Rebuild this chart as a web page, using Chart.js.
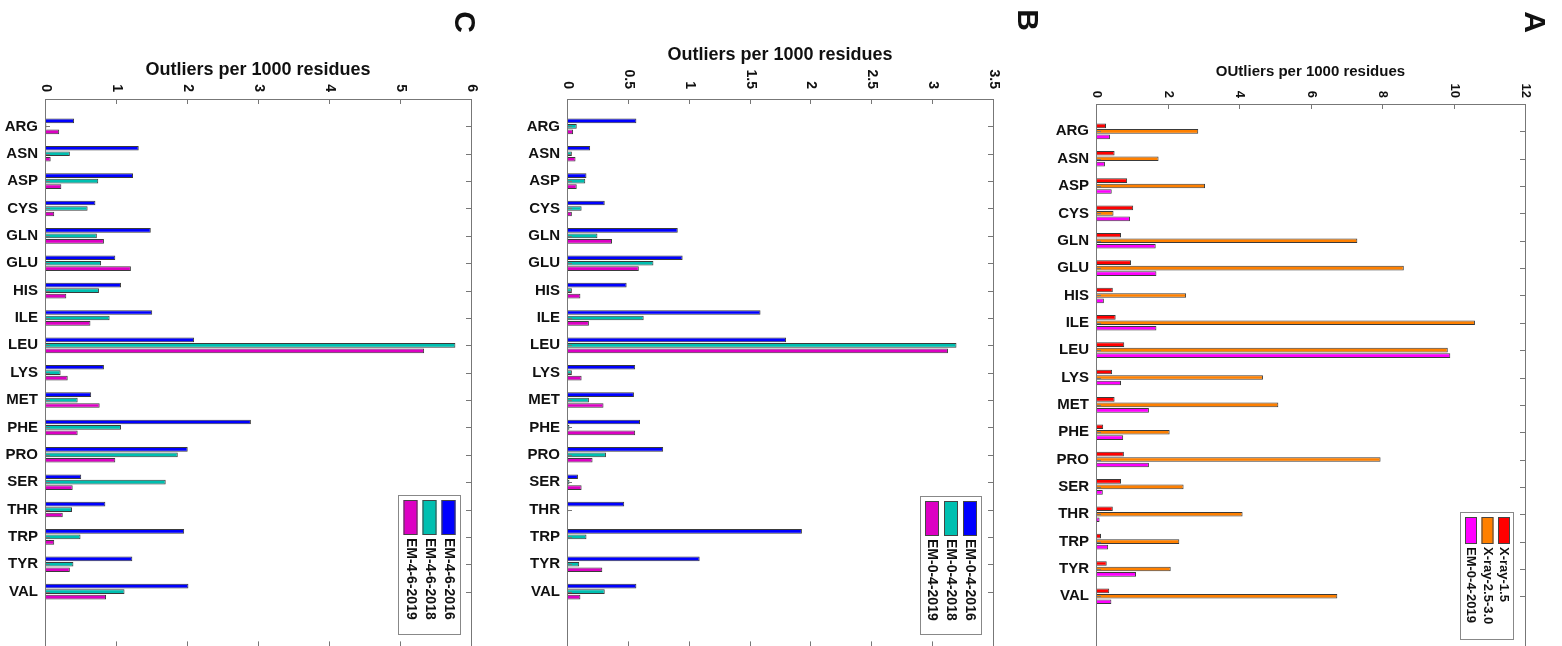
<!DOCTYPE html>
<html>
<head>
<meta charset="utf-8">
<script src="https://cdn.jsdelivr.net/npm/chart.js@4.4.1/dist/chart.umd.min.js"></script>
<style>
  html, body { margin: 0; padding: 0; background: #fff; overflow: hidden; width: 1562px; height: 646px; }
  canvas { position: absolute; top: 0; }
</style>
</head>
<body>
<canvas id="panelC" width="520" height="670" style="left:0px"></canvas>
<canvas id="panelB" width="520" height="670" style="left:522px"></canvas>
<canvas id="panelA" width="511" height="670" style="left:1051px"></canvas>
<script>
const residues = ['ARG', 'ASN', 'ASP', 'CYS', 'GLN', 'GLU', 'HIS', 'ILE', 'LEU',
  'LYS', 'MET', 'PHE', 'PRO', 'SER', 'THR', 'TRP', 'TYR', 'VAL'];

// panel A
const xray15 = [0.28, 0.52, 0.87, 1.04, 0.70, 0.98, 0.47, 0.55, 0.79, 0.45, 0.52, 0.20, 0.78, 0.70, 0.47, 0.14, 0.30, 0.37];
const xray2530 = [2.86, 1.75, 3.05, 0.49, 7.31, 8.61, 2.52, 10.60, 9.84, 4.67, 5.10, 2.06, 7.96, 2.45, 4.10, 2.33, 2.09, 6.75];
const em04y2019A = [0.39, 0.25, 0.44, 0.95, 1.67, 1.69, 0.22, 1.69, 9.91, 0.70, 1.48, 0.76, 1.48, 0.19, 0.10, 0.34, 1.12, 0.43];

// panel B
const em04y2016 = [0.57, 0.19, 0.16, 0.31, 0.91, 0.95, 0.49, 1.59, 1.80, 0.56, 0.55, 0.60, 0.79, 0.09, 0.47, 1.93, 1.09, 0.57];
const em04y2018 = [0.08, 0.04, 0.15, 0.12, 0.25, 0.71, 0.04, 0.63, 3.20, 0.04, 0.18, 0.02, 0.32, 0.02, 0.01, 0.16, 0.10, 0.31];
const em04y2019 = [0.05, 0.07, 0.08, 0.04, 0.37, 0.59, 0.11, 0.18, 3.13, 0.12, 0.30, 0.56, 0.21, 0.12, 0, 0, 0.29, 0.11];

// panel C
const em46y2016 = [0.41, 1.32, 1.24, 0.71, 1.49, 0.99, 1.07, 1.51, 2.10, 0.83, 0.65, 2.90, 2.01, 0.51, 0.85, 1.96, 1.23, 2.02];
const em46y2018 = [0.02, 0.35, 0.75, 0.60, 0.73, 0.79, 0.76, 0.91, 5.78, 0.22, 0.46, 1.07, 1.87, 1.70, 0.38, 0.50, 0.40, 1.12];
const em46y2019 = [0.20, 0.08, 0.23, 0.13, 0.83, 1.21, 0.30, 0.64, 5.34, 0.32, 0.77, 0.46, 0.99, 0.39, 0.25, 0.13, 0.35, 0.86];

const FONT = '"Liberation Sans", Arial, Helvetica, sans-serif';

// one empty slot above ARG and two below VAL, like the matlab axis 0..20
const catLabels = ['', ...residues, '', ''];
const padded = arr => [null, ...arr, null, null];

// box, inward ticks, rotated tick labels, title, legend, panel letter
const deco = {
  id: 'deco',
  afterDraw(chart, args, o) {
    const { ctx, chartArea: a } = chart;
    const x = chart.scales.x, y = chart.scales.y;
    ctx.save();
    ctx.strokeStyle = '#777';
    ctx.lineWidth = 1;
    ctx.strokeRect(a.left + 0.5, a.top + 0.5, a.right - a.left, a.bottom - a.top);

    ctx.fillStyle = '#111';
    ctx.font = 'bold ' + o.tickSize + 'px ' + FONT;
    for (let v = x.min; v <= x.max + 1e-9; v += o.step) {
      const px = Math.round(x.getPixelForValue(v)) + 0.5;
      ctx.beginPath();
      ctx.moveTo(px, a.top); ctx.lineTo(px, a.top + 5);
      ctx.moveTo(px, a.bottom); ctx.lineTo(px, a.bottom - 5);
      ctx.stroke();
      ctx.save();
      ctx.translate(px, a.top - o.tickGap);
      ctx.rotate(Math.PI / 2);
      ctx.textAlign = 'right';
      ctx.textBaseline = 'middle';
      ctx.fillText(String(Number(v.toFixed(1))), 0, 0);
      ctx.restore();
    }
    for (let i = 1; i <= residues.length; i++) {
      const py = Math.round(y.getPixelForValue(i)) + 0.5;
      ctx.beginPath();
      ctx.moveTo(a.left, py); ctx.lineTo(a.left + 5, py);
      ctx.moveTo(a.right, py); ctx.lineTo(a.right - 5, py);
      ctx.stroke();
    }

    // title
    ctx.font = 'bold ' + o.titleSize + 'px ' + FONT;
    ctx.textAlign = 'center';
    ctx.textBaseline = 'middle';
    ctx.fillText(o.title, (a.left + a.right) / 2, o.titleY);

    // legend
    const b = o.legend;
    ctx.fillStyle = '#fff';
    ctx.fillRect(b.x, b.y, b.w, b.h);
    ctx.strokeStyle = '#888';
    ctx.strokeRect(b.x + 0.5, b.y + 0.5, b.w, b.h);
    ctx.font = 'bold ' + b.font + 'px ' + FONT;
    chart.data.datasets.forEach((ds, i) => {
      const cx = b.x + b.w - b.right - i * b.spacing;
      ctx.fillStyle = ds.backgroundColor;
      ctx.fillRect(cx - b.sw / 2, b.y + 5, b.sw, b.sh);
      ctx.strokeStyle = '#444';
      ctx.strokeRect(cx - b.sw / 2 + 0.5, b.y + 5.5, b.sw - 1, b.sh - 1);
      ctx.save();
      ctx.translate(cx, b.y + 5 + b.sh + 3);
      ctx.rotate(Math.PI / 2);
      ctx.fillStyle = '#111';
      ctx.textAlign = 'left';
      ctx.textBaseline = 'middle';
      ctx.fillText(ds.label, 0, 0);
      ctx.restore();
    });

    // panel letter
    ctx.save();
    ctx.translate(o.letterX, o.letterY);
    ctx.rotate(Math.PI / 2);
    ctx.font = 'bold 30px ' + FONT;
    ctx.fillStyle = '#111';
    ctx.textAlign = 'center';
    ctx.textBaseline = 'middle';
    ctx.fillText(o.letter, 0, 0);
    ctx.restore();
    ctx.restore();
  }
};

function makePanel(id, series, xMax, pad, deco_) {
  return new Chart(document.getElementById(id), {
    type: 'bar',
    data: {
      labels: catLabels,
      datasets: series.map(s => ({
        label: s.label,
        data: padded(s.data),
        backgroundColor: s.color,
        borderColor: '#3a3a3a',
        borderWidth: 1,
        categoryPercentage: 0.6,
        barPercentage: 0.85
      }))
    },
    options: {
      indexAxis: 'y',
      responsive: false,
      animation: false,
      layout: { padding: pad },
      scales: {
        x: { display: false, min: 0, max: xMax },
        y: {
          offset: false,
          grid: { display: false, drawTicks: false },
          border: { display: false },
          ticks: { color: '#111', padding: 7, font: { family: FONT, size: 15, weight: 'bold' } },
          afterFit: s => { s.width = 45; }
        }
      },
      plugins: {
        legend: { display: false },
        tooltip: { enabled: false },
        deco: deco_
      }
    },
    plugins: [deco]
  });
}

makePanel('panelC', [
  { label: 'EM-4-6-2016', data: em46y2016, color: '#0000ff' },
  { label: 'EM-4-6-2018', data: em46y2018, color: '#00bfb0' },
  { label: 'EM-4-6-2019', data: em46y2019, color: '#dc00c3' }
], 6, { left: 0, right: 49, top: 99, bottom: 23.6 }, {
  step: 1, tickSize: 14, tickGap: 7, title: 'Outliers per 1000 residues', titleSize: 18, titleY: 70,
  letter: 'C', letterX: 463, letterY: 22,
  legend: { x: 398, y: 495, w: 62, h: 139, right: 11.5, spacing: 19, sw: 14, sh: 35, font: 14 }
});

makePanel('panelB', [
  { label: 'EM-0-4-2016', data: em04y2016, color: '#0000ff' },
  { label: 'EM-0-4-2018', data: em04y2018, color: '#00bfb0' },
  { label: 'EM-0-4-2019', data: em04y2019, color: '#dc00c3' }
], 3.5, { left: 0, right: 49, top: 99, bottom: 23.6 }, {
  step: 0.5, tickSize: 14, tickGap: 10, title: 'Outliers per 1000 residues', titleSize: 18, titleY: 55,
  letter: 'B', letterX: 504, letterY: 20,
  legend: { x: 398, y: 496, w: 61, h: 138, right: 11, spacing: 19, sw: 14, sh: 35, font: 14 }
});

makePanel('panelA', [
  { label: 'X-ray-1.5', data: xray15, color: '#ff0000' },
  { label: 'X-ray-2.5-3.0', data: xray2530, color: '#ff8000' },
  { label: 'EM-0-4-2019', data: em04y2019A, color: '#ff00ff' }
], 12, { left: 0, right: 37, top: 104, bottom: 19 }, {
  step: 2, tickSize: 13, tickGap: 6, title: 'OUtliers per 1000 residues', titleSize: 15, titleY: 72,
  letter: 'A', letterX: 482, letterY: 22,
  legend: { x: 409, y: 512, w: 53, h: 127, right: 9, spacing: 16.5, sw: 12, sh: 27, font: 13 }
});
</script>
</body>
</html>
